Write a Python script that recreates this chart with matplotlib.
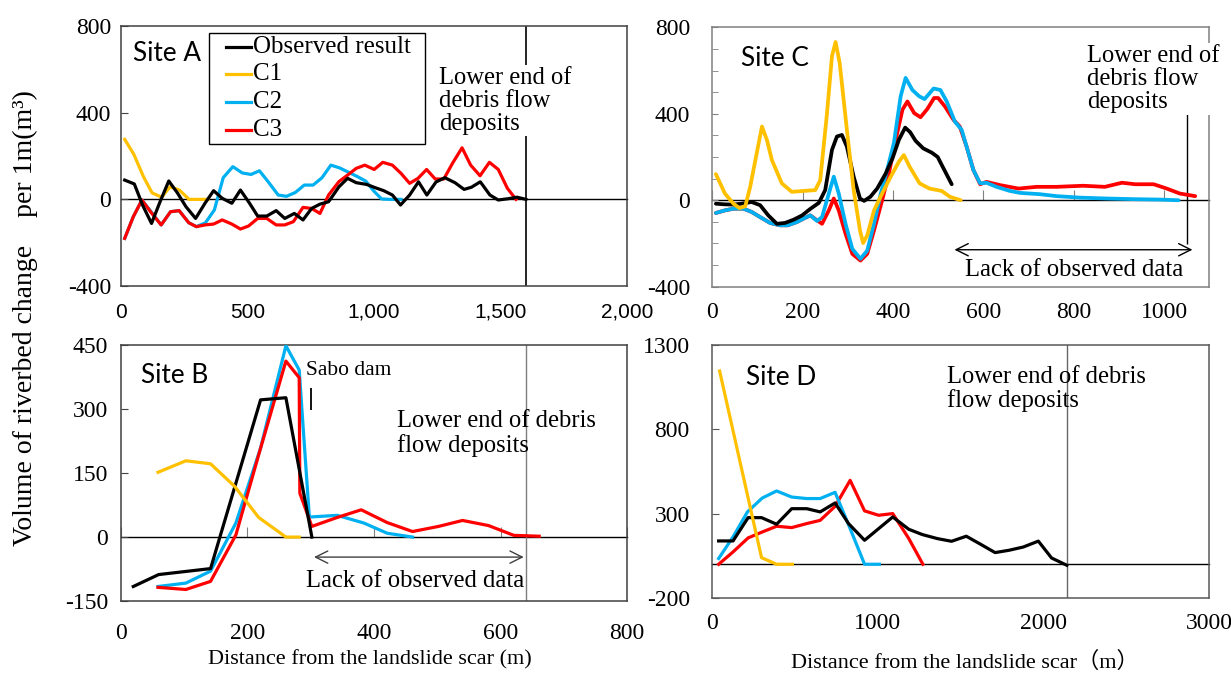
import matplotlib
matplotlib.use("Agg")
import matplotlib.pyplot as plt
from matplotlib.ticker import MultipleLocator
from matplotlib.patches import Rectangle

plt.rcParams['font.family'] = ['Liberation Serif', 'Noto Sans CJK JP', 'DejaVu Sans']
plt.rcParams['axes.unicode_minus'] = False

BLACK = "#000000"
YELLOW = "#FFC000"
BLUE = "#00B0F0"
RED = "#FF0000"

series_names = ['Observed result', 'C1', 'C2', 'C3']
series_colors = [BLACK, YELLOW, BLUE, RED]

# ---- Site A ----
a_obs_x = [16, 54, 88, 122, 156, 190, 224, 258, 296, 333, 367, 401, 439, 473, 509, 541, 577, 614, 648, 686,
           720, 754, 787, 821, 862, 896, 930, 971, 1005, 1039, 1073, 1105, 1141, 1176, 1209, 1245, 1280, 1320,
           1356, 1385, 1420, 1458, 1491, 1530, 1565, 1600]
a_obs_y = [89, 71, -30, -111, -10, 85, 30, -34, -88, -18, 40, 5, -18, 43, -18, -77, -77, -52, -88, -65,
           -95, -42, -22, -11, 58, 97, 77, 69, 54, 40, 20, -26, 20, 81, 20, 80, 100, 77,
           46, 56, 81, 20, -3, 3, 10, 0]
a_c1_x = [16, 52, 90, 124, 162, 195, 232, 270, 345]
a_c1_y = [277, 208, 105, 30, 10, 58, 43, 0, 0]
a_c2_x = [16, 50, 84, 122, 160, 197, 231, 269, 299, 335, 370, 405, 443, 480, 515, 548, 582, 622, 655, 690,
          725, 760, 795, 830, 865, 900, 935, 968, 1000, 1030, 1060, 1107]
a_c2_y = [-180, -80, -3, -60, -118, -57, -52, -108, -126, -108, -49, 100, 151, 122, 115, 132, 82, 20, 14, 32,
          66, 66, 100, 158, 145, 125, 105, 84, 38, 2, 0, 0]
a_c3_x = [16, 50, 84, 120, 160, 197, 231, 269, 299, 333, 367, 401, 439, 473, 505, 541, 577, 614, 648, 682,
          720, 754, 787, 821, 862, 896, 930, 964, 1001, 1035, 1073, 1107, 1141, 1174, 1208, 1242, 1276, 1310,
          1348, 1382, 1419, 1456, 1491, 1527, 1561]
a_c3_y = [-180, -80, -3, -60, -118, -57, -52, -108, -126, -118, -114, -95, -114, -137, -123, -88, -88, -118, -118, -103,
          -37, -42, -65, 20, 82, 112, 143, 158, 138, 171, 158, 120, 74, 97, 138, 94, 94, 166,
          238, 158, 109, 171, 138, 51, 0]

# ---- Site B ----
b_obs_x = [20, 60, 142, 221, 261, 302]
b_obs_y = [-116, -88, -74, 322, 327, 0]
b_c1_x = [59, 103, 142, 180, 218, 261, 282]
b_c1_y = [152, 179, 172, 119, 46, 0, 0]
b_c2_x = [59, 103, 142, 182, 221, 261, 282, 298, 342, 384, 421, 461]
b_c2_y = [-116, -108, -80, 33, 209, 449, 392, 47, 51, 33, 9, 0]
b_c3_x = [59, 103, 142, 182, 218, 261, 282, 283, 302, 342, 380, 421, 461, 502, 540, 581, 621, 661]
b_c3_y = [-118, -123, -104, 5, 193, 413, 374, 103, 25, 46, 64, 34, 13, 25, 39, 27, 4, 2]

# ---- Site C ----
c_obs_x = [8, 28, 47, 65, 87, 106, 124, 143, 161, 180, 199, 217, 236, 250, 265, 276, 287, 298, 313, 327,
           336, 350, 365, 384, 399, 413, 427, 438, 450, 467, 486, 499, 510, 530]
c_obs_y = [-16, -19, -20, -16, -8, -23, -70, -109, -105, -90, -70, -40, -12, 47, 233, 295, 302, 248, 109, 8,
           -3, 16, 54, 124, 194, 279, 336, 315, 275, 240, 220, 200, 155, 74]
c_c1_x = [8, 28, 47, 60, 73, 84, 97, 110, 121, 132, 154, 176, 202, 228, 239, 254, 265, 273, 282, 298,
          313, 327, 334, 343, 358, 376, 395, 413, 424, 437, 459, 481, 508, 526, 550]
c_c1_y = [121, 31, -16, -36, -28, 62, 202, 341, 279, 186, 78, 39, 43, 47, 93, 403, 667, 732, 636, 326,
          47, -140, -198, -163, -47, 31, 109, 178, 209, 155, 78, 54, 43, 16, 0]
c_c2_x = [8, 28, 47, 69, 87, 106, 128, 150, 167, 187, 206, 217, 232, 243, 258, 269, 280, 295, 310, 328,
          343, 358, 373, 387, 402, 417, 428, 443, 458, 470, 490, 505, 519, 537, 552, 563, 578, 593, 607, 629,
          659, 681, 725, 762, 815, 874, 933, 992, 1032]
c_c2_y = [-59, -47, -39, -39, -54, -78, -105, -116, -116, -101, -81, -70, -96, -78, 31, 109, 31, -109, -225, -271,
          -233, -109, 31, 140, 264, 481, 566, 510, 481, 468, 517, 510, 457, 364, 326, 248, 140, 78, 81, 62,
          43, 34, 28, 19, 12, 8, 5, 3, 0]
c_c3_x = [8, 28, 47, 69, 87, 106, 128, 150, 167, 187, 206, 217, 232, 243, 258, 269, 280, 295, 310, 328,
          343, 358, 376, 391, 406, 421, 432, 447, 461, 476, 491, 500, 515, 534, 548, 563, 578, 593, 607, 637,
          678, 718, 762, 821, 869, 907, 936, 977, 1006, 1035, 1069]
c_c3_y = [-59, -47, -39, -39, -54, -78, -105, -116, -116, -101, -81, -70, -93, -109, -47, 8, -47, -155, -248, -279,
          -248, -140, 0, 124, 279, 419, 457, 403, 384, 422, 473, 473, 434, 372, 341, 248, 140, 74, 85, 70,
          54, 62, 62, 67, 62, 81, 74, 74, 54, 31, 19]

# ---- Site D ----
d_obs_x = [40, 127, 218, 299, 390, 481, 572, 653, 743, 824, 921, 1006, 1091, 1188, 1269, 1360, 1446, 1535,
           1622, 1709, 1794, 1879, 1970, 2050, 2142]
d_obs_y = [138, 138, 276, 276, 237, 329, 329, 310, 363, 241, 142, 211, 280, 207, 176, 152, 136, 166,
           118, 69, 83, 102, 137, 37, -6]
d_c1_x = [46, 299, 390, 485]
d_c1_y = [1144, 39, 0, 0]
d_c2_x = [40, 127, 214, 303, 390, 481, 572, 653, 743, 828, 921, 1010]
d_c2_y = [34, 162, 310, 392, 434, 398, 389, 389, 426, 225, 0, 0]
d_c3_x = [40, 127, 218, 303, 390, 481, 572, 653, 743, 834, 921, 1006, 1091, 1188, 1273]
d_c3_y = [0, 73, 156, 191, 225, 217, 241, 260, 343, 497, 316, 290, 300, 152, 0]

LW = 2.3
TICK_FS = 17
TEXT_FS = 17.7
SITE_FS = 18.8


def setup(ax, xlim, ylim, xticks, yticks, zero_frac, spine_col, xticks_on_zero, ypad):
    ax.set_xlim(*xlim)
    ax.set_ylim(*ylim)
    ax.set_xticks(xticks)
    ax.set_yticks(yticks)
    for s in ax.spines.values():
        s.set_color(spine_col)
        s.set_linewidth(1.1)
    ax.tick_params(axis='x', length=0, labelsize=TICK_FS)
    ax.tick_params(axis='y', direction='in', length=5, color=spine_col, labelsize=TICK_FS, pad=ypad)
    # horizontal axis drawn through zero, Excel style
    sec = ax.secondary_xaxis(zero_frac)
    sec.set_xticks(xticks if xticks_on_zero else [])
    sec.tick_params(axis='x', direction='in', length=7 if xticks_on_zero else 0,
                    color='#808080', labelbottom=False, labeltop=False, top=False, bottom=True)
    for name, s in sec.spines.items():
        s.set_visible(name == 'bottom')
    sec.spines['bottom'].set_color('black')
    sec.spines['bottom'].set_linewidth(1)
    return sec


fig = plt.figure(figsize=(12.31, 6.73), dpi=100)
axA = fig.add_axes([0.0980, 0.5750, 0.4115, 0.3863])
axC = fig.add_axes([0.5786, 0.5740, 0.4037, 0.3854])
axB = fig.add_axes([0.0980, 0.1070, 0.4115, 0.3799])
axD = fig.add_axes([0.5784, 0.1114, 0.4037, 0.3764])

# ---------- Site A ----------
setup(axA, (0, 2000), (-400, 800), [0, 500, 1000, 1500, 2000], [-400, 0, 400, 800],
      1 / 3, '#404040', False, 7)
axA.set_xticklabels(['0', '500', '1,000', '1,500', '2,000'], family='Liberation Sans', fontsize=15)
axA.tick_params(axis='x', pad=12)
axA.axvline(1600, color='black', lw=1.2, zorder=1)
axA.plot(a_c2_x, a_c2_y, color=BLUE, lw=LW, zorder=3)
axA.plot(a_c3_x, a_c3_y, color=RED, lw=LW, zorder=4)
axA.plot(a_c1_x, a_c1_y, color=YELLOW, lw=LW, zorder=3)
axA.plot(a_obs_x, a_obs_y, color=BLACK, lw=LW, zorder=5)

# legend box drawn like the original (wide side padding, tight rows)
axA.add_patch(Rectangle((0.1737, 0.548), 0.427, 0.4266, transform=axA.transAxes,
                        fc='white', ec='black', lw=1, zorder=10))
row_y = [0.9204, 0.8146, 0.7077, 0.6019]
for name, col, ry in zip(series_names, series_colors, row_y):
    axA.plot([0.2071, 0.258], [ry, ry], transform=axA.transAxes, color=col, lw=LW,
             zorder=11, clip_on=False)
    axA.text(0.2611, ry, name, transform=axA.transAxes, fontsize=18, va='center', ha='left', zorder=11)

axA.text(0.024, 0.896, 'Site A', transform=axA.transAxes, family='Lato', fontsize=SITE_FS, va='center')
axA.text(1257, 455, 'Lower end of\ndebris flow\ndeposits', fontsize=TEXT_FS, va='center', ha='left',
         linespacing=1.07, bbox=dict(fc='white', ec='none', pad=1), zorder=6)

# ---------- Site C ----------
setup(axC, (0, 1100), (-400, 800), [0, 200, 400, 600, 800, 1000], [-400, 0, 400, 800],
      1 / 3, '#808080', True, 16)
axC.yaxis.set_minor_locator(MultipleLocator(100))
axC.tick_params(axis='y', which='both', direction='in', length=4, color='#808080')
axC.tick_params(axis='x', pad=11)
axC.plot(c_c3_x, c_c3_y, color=RED, lw=LW + 0.4, zorder=3, solid_capstyle='round', solid_joinstyle='round')
axC.plot(c_c2_x, c_c2_y, color=BLUE, lw=LW + 0.4, zorder=4, solid_capstyle='round', solid_joinstyle='round')
axC.plot(c_obs_x, c_obs_y, color=BLACK, lw=LW + 0.4, zorder=5, solid_capstyle='round', solid_joinstyle='round')
axC.plot(c_c1_x, c_c1_y, color=YELLOW, lw=LW + 0.4, zorder=6, solid_capstyle='round', solid_joinstyle='round')
axC.vlines(1050, -202, 426, color='black', lw=1, zorder=2)
axC.annotate('', xy=(530, -229), xytext=(1069, -229),
             arrowprops=dict(arrowstyle='<->', color='black', lw=1, mutation_scale=22))
axC.text(800, -322, 'Lack of observed data', fontsize=TEXT_FS, ha='center', va='center')
axC.text(830, 561, 'Lower end of\ndebris flow\ndeposits', fontsize=TEXT_FS, va='center', ha='left',
         linespacing=1.07, bbox=dict(fc='white', ec='none', pad=1), zorder=7, clip_on=False)
axC.text(0.057, 0.878, 'Site C', transform=axC.transAxes, family='Lato', fontsize=SITE_FS, va='center')

# ---------- Site B ----------
setup(axB, (0, 800), (-150, 450), [0, 200, 400, 600, 800], [-150, 0, 150, 300, 450],
      0.25, '#404040', True, 9)
axB.tick_params(axis='x', pad=16)
axB.axvline(640, color='#7f7f7f', lw=1, zorder=1)
axB.plot(b_c2_x, b_c2_y, color=BLUE, lw=LW, zorder=3)
axB.plot(b_c3_x, b_c3_y, color=RED, lw=LW, zorder=4)
axB.plot(b_obs_x, b_obs_y, color=BLACK, lw=LW, zorder=5)
axB.plot(b_c1_x, b_c1_y, color=YELLOW, lw=LW, zorder=6)
axB.text(293, 392, 'Sabo dam', fontsize=15.5, va='center', ha='left')
axB.vlines(300, 298, 349, color='black', lw=1.3)
axB.annotate('', xy=(301, -47), xytext=(641, -47),
             arrowprops=dict(arrowstyle='<->', color='#404040', lw=1, mutation_scale=22))
axB.text(465, -102, 'Lack of observed data', fontsize=TEXT_FS, ha='center', va='center')
axB.text(436, 243, 'Lower end of debris\nflow deposits', fontsize=TEXT_FS, va='center', ha='left',
         linespacing=1.07, zorder=7)
axB.text(0.041, 0.883, 'Site B', transform=axB.transAxes, family='Lato', fontsize=SITE_FS, va='center')

# ---------- Site D ----------
setup(axD, (0, 3000), (-200, 1300), [0, 1000, 2000, 3000], [-200, 300, 800, 1300],
      200 / 1500, '#595959', False, 16)
axD.tick_params(axis='x', pad=11)
axD.axvline(2140, color='#666666', lw=1, zorder=1)
axD.plot(d_c3_x, d_c3_y, color=RED, lw=LW, zorder=3)
axD.plot(d_c2_x, d_c2_y, color=BLUE, lw=LW, zorder=4)
axD.plot(d_obs_x, d_obs_y, color=BLACK, lw=LW, zorder=5)
axD.plot(d_c1_x, d_c1_y, color=YELLOW, lw=LW, zorder=6)
axD.text(1418, 1037, 'Lower end of debris\nflow deposits', fontsize=TEXT_FS, va='center', ha='left',
         linespacing=1.07, zorder=7)
axD.text(0.069, 0.871, 'Site D', transform=axD.transAxes, family='Lato', fontsize=SITE_FS, va='center')

# axis titles
fig.text(370 / 1231, 1 - 660 / 673, 'Distance from the landslide scar (m)', fontsize=16,
         ha='center', va='center')
fig.text(965 / 1231, 1 - 662 / 673, 'Distance from the landslide scar（m）', fontsize=16,
         ha='center', va='center')
fig.text(25 / 1231, 1 - 318 / 673, 'Volume of riverbed change    per 1m(m³)', rotation=90,
         fontsize=20, ha='center', va='center')

fig.savefig('out.png', dpi=100)
